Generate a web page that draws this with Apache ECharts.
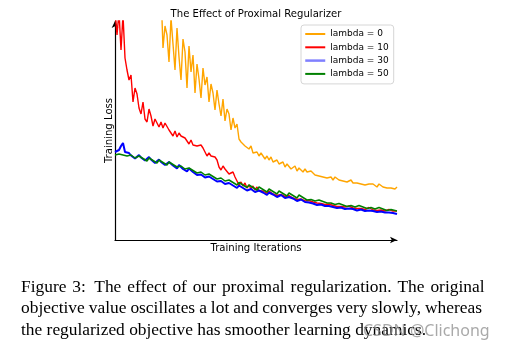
<!DOCTYPE html>
<html>
<head>
<meta charset="utf-8">
<script src="https://cdn.jsdelivr.net/npm/echarts@6/dist/echarts.min.js"></script>
<style>
  html, body { margin: 0; padding: 0; background: #fff; }
  #chart { width: 505px; height: 349px; }
</style>
</head>
<body>
<div id="chart"></div>
<script>
// Training loss curves (arbitrary loss units) sampled every 10 iterations.
const iterations = Array.from({ length: 142 }, (_, i) => i * 10);

const lambda0 = [
  260, 245, 270, 250, 285, 255, 240, 265, 248, 275, 252, 238, 262, 244, 258, 236, 250, 242, 256, 235,
  248, 240, 245, 250, 192, 214, 205, 178, 222, 196, 170, 212, 183, 160, 201, 188, 152, 194, 168, 185,
  147, 176, 161, 142, 172, 155, 163, 138, 156, 147, 130, 150, 136, 124, 141, 119, 131, 126, 110, 122,
  112, 116, 101, 98, 100, 94, 95, 91, 94, 87, 89, 88, 84, 87, 85, 81, 84, 80, 83, 78,
  79, 80, 76, 77, 78, 73, 76, 74, 71, 73, 74, 69, 72, 70, 68, 71, 68, 66, 69, 67,
  65, 67, 64, 66, 63, 65, 62, 64, 63, 60, 63, 61, 60, 62, 59, 61, 58, 59, 60, 57,
  59, 57, 58, 56, 58, 55, 57, 56, 54, 56, 55, 53, 56, 54, 53, 55, 52, 54, 52, 53,
  51, 53
];

const lambda10 = [
  230, 205, 228, 190, 225, 182, 170, 160, 165, 138, 152, 146, 132, 126, 138, 121, 118, 131, 124, 114,
  121, 119, 113, 118, 112, 117, 115, 110, 108, 104, 109, 103, 107, 104, 106, 102, 101, 96, 100, 95,
  97, 94, 96, 95, 92, 88, 84, 87, 84, 86, 83, 80, 73, 70, 74, 71, 69, 66, 64, 68,
  63, 59, 55, 58, 54, 57, 52, 55, 51, 54, 50, 53, 49, 51, 49, 47.5, 46.5, 49, 48, 46,
  45.5, 44.5, 46.5, 45.5, 44, 43.5, 42.5, 44.5, 43, 42, 41, 40.5, 42, 41, 40, 39, 38.5, 39.5, 38.5, 38,
  37.5, 37, 38, 36.5, 36, 35.5, 35, 36, 35, 34.5, 34, 33.5, 35, 33.5, 33, 33, 32, 34, 32.5, 32,
  31.5, 31.5, 33, 31.5, 31, 30.5, 30.5, 32.5, 31, 30, 30, 29.5, 31.5, 30, 29.5, 29, 29, 30.5, 29.5, 29,
  29.5, 29
];

const lambda30 = [
  88, 89, 90, 94, 97, 88, 86,
  87, 84.5, 83, 81.5, 80.5,
  85, 82.5, 81, 79.5, 78.5,
  83, 80.5, 79, 77, 76,
  80.5, 78, 76.5, 75, 74,
  78, 76, 74.5, 73, 71.5,
  75, 73, 71, 69.5, 68.5,
  71.5, 69.5, 68, 66.5, 65,
  67, 65.5, 64, 62.5, 61.5,
  63.5, 62.5, 61, 59.5, 58.5,
  60.5, 59, 57.5, 56, 55,
  57, 56, 54.5, 53, 52,
  54.5, 53.5, 52, 50.5, 49.5,
  51.5, 51, 49.5, 48, 47,
  49.5, 49, 47.5, 46, 45,
  47.5, 47, 45.5, 44, 43,
  45, 45, 43.5, 42, 41,
  43, 43, 41.5, 40, 39,
  40.5, 40.5, 39, 38, 37,
  37.5, 37.5, 36.5, 35.5, 35,
  35.5, 35.5, 34.5, 34, 33.5,
  34, 34, 33, 32.5, 32,
  32.5, 32.5, 32, 31, 30.5,
  31.5, 31.5, 31, 30, 29.5,
  30.5, 30.5, 30, 29, 28.5,
  29.5, 29.5, 29, 28.5, 28,
  28.5, 28.5, 28, 27.5, 27,
  27.5, 27.5, 27, 26.5, 26
];

const lambda50 = [
  85, 85, 86, 86, 85, 85, 84,
  86, 85, 83.5, 82, 81,
  84, 83, 81.5, 80, 79,
  82, 81, 79.5, 78, 77,
  80, 79, 77.5, 76, 75,
  78, 77, 75.5, 74, 73,
  75, 74, 72.5, 71, 70,
  72, 71, 69.5, 68, 67,
  69, 68, 66.5, 65, 64,
  66, 65, 63.5, 62, 61,
  63, 62, 60.5, 59, 58,
  60, 59, 57.5, 56, 55,
  57.5, 56.5, 55, 53.5, 52.5,
  55, 54, 52.5, 51, 50,
  53, 52, 50.5, 49, 48,
  51, 50, 48.5, 47, 46,
  49, 48, 46.5, 45, 44,
  47, 46, 44.5, 43, 42,
  45, 44, 42.5, 41, 40,
  41.5, 40.5, 40, 39, 38.5,
  40, 39, 38.5, 37.5, 37,
  38, 37, 36.5, 35.5, 35,
  36.5, 35.5, 35, 34, 33.5,
  35.5, 34.5, 34, 33, 32.5,
  34.5, 33.5, 33, 32, 31.5,
  33.5, 32.5, 32, 31, 30.5,
  32.5, 31.5, 31, 30, 29.5,
  31.5, 30.5, 30, 29.5, 29
];

const seriesNames = ['lambda = 0', 'lambda = 10', 'lambda = 30', 'lambda = 50'];
const captionLines = [
  'Figure 3: The effect of our proximal regularization. The original',
  'objective value oscillates a lot and converges very slowly, whereas',
  'the regularized objective has smoother learning dynamics.'
];

const chart = echarts.init(document.getElementById('chart'), null, { renderer: 'canvas' });

const font = 'DejaVu Sans';
const captionFont = '17.4px "Liberation Serif"';

function line(name, data, color, width) {
  return {
    name, type: 'line', data, symbol: 'none', clip: true,
    lineStyle: { color, width }, itemStyle: { color },
    emphasis: { disabled: true }, animation: false
  };
}

// Caption set as a justified paragraph: every line but the last is
// stretched to the full text width by widening the word gaps.
const measure = document.createElement('canvas').getContext('2d');
measure.font = captionFont;
const textLeft = 21, textRight = 482, lineTop = 279, lineStep = 21.4;
const captionGraphics = [];
captionLines.forEach((t, k) => {
  const words = t.split(' ');
  const widths = words.map(w => measure.measureText(w).width);
  const justify = k < captionLines.length - 1;
  const used = widths.reduce((a, b) => a + b, 0);
  const gap = justify ? (textRight - textLeft - used) / (words.length - 1) : measure.measureText(' ').width;
  let x = textLeft;
  words.forEach((w, j) => {
    captionGraphics.push({
      type: 'text', x, y: lineTop + k * lineStep, silent: true,
      style: { text: w, font: captionFont, fill: '#000', align: 'left', verticalAlign: 'top' }
    });
    x += widths[j] + gap + (w === '3:' ? 2.5 : 0);
  });
});

chart.setOption({
  backgroundColor: '#fff',
  animation: false,
  title: {
    text: 'The Effect of Proximal Regularizer',
    left: 256, top: 9, textAlign: 'center', padding: 0,
    textStyle: { fontFamily: font, fontSize: 10.1, fontWeight: 'normal', color: '#000' }
  },
  legend: {
    orient: 'vertical', left: 301, top: 25,
    padding: [3, 5, 4, 3], itemGap: 1.3, itemWidth: 20, itemHeight: 10,
    backgroundColor: '#fff', borderColor: '#d6d6d6', borderWidth: 1, borderRadius: 3,
    itemStyle: { opacity: 0 },
    textStyle: { fontFamily: font, fontSize: 9, color: '#000', lineHeight: 12 },
    data: [
      { name: seriesNames[0] },
      { name: seriesNames[1] },
      { name: seriesNames[2], lineStyle: { color: '#8080ff', width: 2.5 } },
      { name: seriesNames[3] }
    ]
  },
  grid: { left: 115, right: 108, top: 21, bottom: 109 },
  xAxis: {
    type: 'category', data: iterations, boundaryGap: false,
    name: 'Training Iterations', nameLocation: 'middle', nameGap: 3,
    nameTextStyle: { fontFamily: font, fontSize: 10.1, color: '#000', verticalAlign: 'top' },
    axisLine: { show: true, lineStyle: { color: '#000', width: 1.2 }, symbol: ['none', 'arrow'], symbolSize: [5, 7] },
    axisTick: { show: false }, axisLabel: { show: false }, splitLine: { show: false }
  },
  yAxis: {
    type: 'value', min: 0, max: 219,
    name: 'Training Loss', nameLocation: 'middle', nameGap: 0.5, nameRotate: 90,
    nameTextStyle: { fontFamily: font, fontSize: 10.1, color: '#000', verticalAlign: 'bottom' },
    axisLine: { show: true, lineStyle: { color: '#000', width: 1.2 }, symbol: ['none', 'arrow'], symbolSize: [5, 7] },
    axisTick: { show: false }, axisLabel: { show: false }, splitLine: { show: false }
  },
  series: [
    line(seriesNames[0], lambda0, '#ffa500', 1.4),
    line(seriesNames[1], lambda10, '#ff0000', 1.4),
    line(seriesNames[2], lambda30, '#0000ff', 2),
    line(seriesNames[3], lambda50, '#008000', 1.5)
  ],
  graphic: captionGraphics.concat([{
    type: 'text', x: 363, y: 323.5, silent: true,
    style: { text: 'CSDN @Clichong', font: '16px "Noto Sans"', fill: 'rgba(140,140,140,0.75)', verticalAlign: 'top' }
  }])
});
</script>
</body>
</html>
